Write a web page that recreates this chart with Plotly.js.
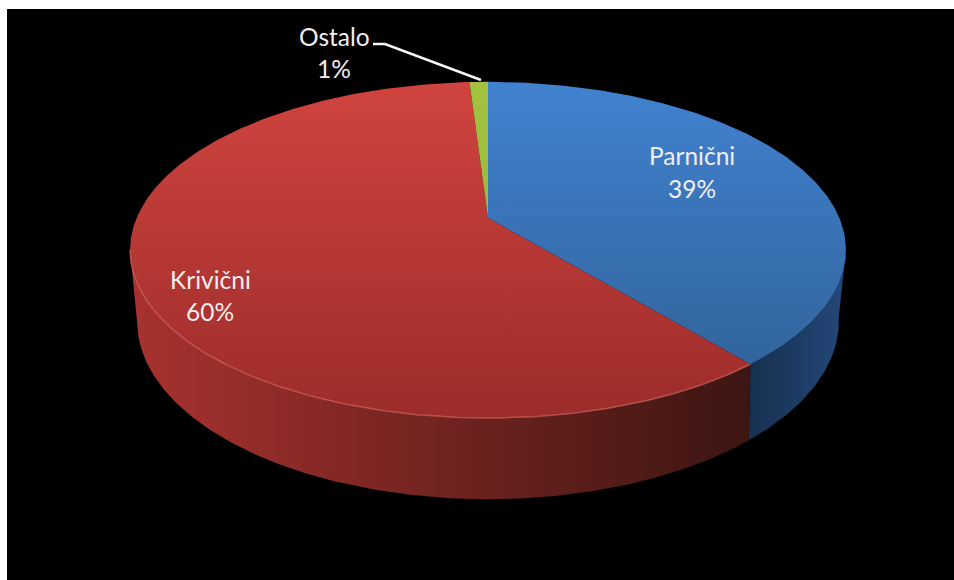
<!DOCTYPE html>
<html>
<head>
<meta charset="utf-8">
<script src="https://cdn.plot.ly/plotly-3.0.1.min.js"></script>
<style>html,body{margin:0;padding:0;background:#fff}#chart{width:954px;height:580px}</style>
</head>
<body>
<div id="chart"></div>
<script>
// Data, clockwise from twelve o'clock
const categories = ['Parnični', 'Krivični', 'Ostalo'];
const shares = [39, 60, 1];

// Styles
const topGradient = [['#4182d0', '#2f5f94'], ['#d0443f', '#9c2c2a'], ['#a4c240', '#8fae38']];
const wallGradient = [['#16304f', '#24487a'], ['#a8322f', '#3c1512'], ['#6f8a2c', '#6f8a2c']];
const rimHighlight = ['rgba(0,0,0,0)', 'rgba(235,120,110,0.55)', 'rgba(0,0,0,0)'];

// Perspective of the tilted disc, in axis units
const topDisc = {cx: 488, y0: 218, a: 351.4, b: 162, p: 0.19};
const baseDisc = {cx: 488, y0: 284, a: 343, b: 170, p: 0.21};
const project = (d, t) => {
  const X = Math.sin(t), Y = Math.cos(t), w = 1 + d.p * Y;
  return [d.cx + d.a * X / w, d.y0 - d.b * Y / w];
};
const arc = (d, a0, a1) => {
  const n = Math.max(2, Math.ceil(Math.abs(a1 - a0) / 0.01));
  const pts = [];
  for (let i = 0; i <= n; i++) pts.push(project(d, a0 + (a1 - a0) * i / n));
  return pts;
};

const total = shares.reduce((s, v) => s + v, 0);
let run = 0;
const wedges = shares.map(v => {
  const a0 = run / total * 2 * Math.PI;
  run += v;
  return [a0, run / total * 2 * Math.PI];
});

// Only the front of the disc shows its wall: between the two silhouette angles
const frontStart = Math.acos(-topDisc.p);
const frontEnd = 2 * Math.PI - frontStart;
const frontPart = w => [Math.max(w[0], frontStart), Math.min(w[1], frontEnd)];

const scale = c => [[0, c[0]], [1, c[1]]];
const polyTrace = (pts, name, fillgradient) => ({
  type: 'scatter', mode: 'lines', name,
  x: pts.map(p => p[0]), y: pts.map(p => p[1]),
  line: {width: 0}, fill: 'toself', fillgradient,
  hoverinfo: 'name', showlegend: false
});

const traces = [];
// Side walls
wedges.forEach((w, i) => {
  const [a0, a1] = frontPart(w);
  if (a1 <= a0) return;
  const pts = arc(topDisc, a0, a1).concat(arc(baseDisc, a1, a0));
  pts.push(pts[0]);
  const xs = pts.map(p => p[0]);
  traces.push(polyTrace(pts, categories[i], {
    type: 'horizontal', colorscale: scale(wallGradient[i]),
    start: Math.min(...xs), stop: Math.max(...xs)
  }));
});
// Top surfaces
wedges.forEach((w, i) => {
  const pts = [[topDisc.cx, topDisc.y0]].concat(arc(topDisc, w[0], w[1]));
  pts.push(pts[0]);
  traces.push(polyTrace(pts, categories[i], {
    type: 'vertical', colorscale: scale(topGradient[i]), start: 82, stop: 418
  }));
});
// Light rim along the front edge
wedges.forEach((w, i) => {
  const [a0, a1] = frontPart(w);
  if (a1 <= a0) return;
  const pts = arc(topDisc, a0, a1);
  traces.push({
    type: 'scatter', mode: 'lines', x: pts.map(p => p[0]), y: pts.map(p => p[1]),
    line: {width: 1.5, color: rimHighlight[i]}, hoverinfo: 'skip', showlegend: false
  });
});
// Leader line for the smallest slice
traces.push({
  type: 'scatter', mode: 'lines', x: [373, 385, 481], y: [44, 44, 80],
  line: {width: 2.5, color: '#f6f6f6'}, hoverinfo: 'skip', showlegend: false
});

const labelPos = [[691.5, 155, 188], [210, 279, 311], [334, 36, 68]];
const annotations = [];
categories.forEach((c, i) => {
  const [x, y1, y2] = labelPos[i];
  [[c, y1], [shares[i] + '%', y2]].forEach(([text, y]) => annotations.push({
    x, y, xref: 'x', yref: 'y', text, showarrow: false,
    xanchor: 'center', yanchor: 'middle',
    font: {family: 'Lato, sans-serif', size: 24.5, color: '#f2eeee'}
  }));
});

const layout = {
  width: 954, height: 580,
  margin: {l: 7, r: 0, t: 9, b: 0, pad: 0},
  paper_bgcolor: '#ffffff', plot_bgcolor: '#000000',
  showlegend: false,
  xaxis: {range: [7, 954], visible: false, fixedrange: true},
  yaxis: {range: [580, 9], visible: false, fixedrange: true},
  annotations
};
Plotly.newPlot('chart', traces, layout, {displayModeBar: false, staticPlot: true});
</script>
</body>
</html>
